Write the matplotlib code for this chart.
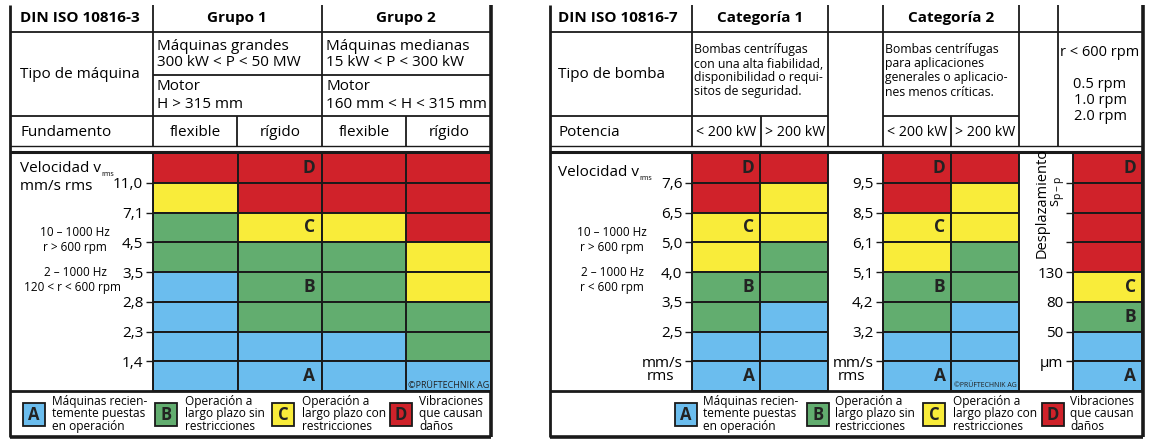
import matplotlib.pyplot as plt

plt.rcParams['font.family'] = ['Open Sans', 'DejaVu Sans']
plt.rcParams['mathtext.default'] = 'regular'

W, H = 1170, 447
INK = '#1a1a1a'

# zone colours
zone_colors = {'A': '#6bbdee', 'B': '#62ad6f', 'C': '#f9ec3a', 'D': '#d0222a'}

# DIN ISO 10816-3, zones from top to bottom
g1_flexible = ['D', 'C', 'B', 'B', 'A', 'A', 'A', 'A']
g1_rigido = ['D', 'D', 'C', 'B', 'B', 'B', 'A', 'A']
g2_flexible = ['D', 'D', 'C', 'B', 'B', 'B', 'A', 'A']
g2_rigido = ['D', 'D', 'D', 'C', 'C', 'B', 'B', 'A']
iso3_ticks = ['11,0', '7,1', '4,5', '3,5', '2,8', '2,3', '1,4']

# DIN ISO 10816-7
cat1_low = ['D', 'D', 'C', 'C', 'B', 'B', 'A', 'A']
cat1_high = ['D', 'C', 'C', 'B', 'B', 'A', 'A', 'A']
cat2_low = ['D', 'D', 'C', 'C', 'B', 'B', 'A', 'A']
cat2_high = ['D', 'C', 'C', 'B', 'B', 'A', 'A', 'A']
displacement = ['D', 'D', 'D', 'D', 'C', 'B', 'A', 'A']
cat1_ticks = ['7,6', '6,5', '5,0', '4,0', '3,5', '2,5', 'mm/s']
cat2_ticks = ['9,5', '8,5', '6,1', '5,1', '4,2', '3,2', 'mm/s']
disp_ticks = ['', '', '', '130', '80', '50', 'µm']

# row of the letter inside the zone column
letter_rows_vel = {'D': 0, 'C': 2, 'B': 4, 'A': 7}
letter_rows_disp = {'D': 0, 'C': 4, 'B': 5, 'A': 7}

legend_text = ['Máquinas recien-\ntemente puestas\nen operación',
               'Operación a\nlargo plazo sin\nrestricciones',
               'Operación a\nlargo plazo con\nrestricciones',
               'Vibraciones\nque causan\ndaños']

fig = plt.figure(figsize=(W / 100, H / 100), dpi=100)
bg = fig.add_axes([0, 0, 1, 1])
bg.set_xlim(0, W)
bg.set_ylim(H, 0)
bg.axis('off')


def rect(x0, y0, x1, y1):
    return [x0 / W, 1 - y1 / H, (x1 - x0) / W, (y1 - y0) / H]


def hline(y, x0, x1, lw=1.3, color=INK):
    bg.plot([x0, x1], [y, y], color=color, lw=lw, solid_capstyle='butt')


def vline(x, y0, y1, lw=1.3):
    bg.plot([x, x], [y0, y1], color=INK, lw=lw, solid_capstyle='butt')


def label_with_sub(x, y, main, sub, size):
    t = bg.text(x, y, main, fontsize=size, va='center')
    bg.annotate(sub, xy=(1.0, 0.1), xycoords=t, fontsize=5, ha='left', va='center')


def zone_grid(x0, x1, columns, ticks, letter_col=None, letter_rows=None):
    ax = fig.add_axes(rect(x0, 153, x1, 391))
    n = len(columns[0])
    for i, col in enumerate(columns):
        ax.bar([i] * n, [1] * n, bottom=list(range(n)), width=1, align='edge',
               color=[zone_colors[z] for z in col], edgecolor=INK, linewidth=1.4)
    ax.set_xlim(0, len(columns))
    ax.set_ylim(n, 0)
    ax.set_xticks([])
    ax.set_yticks(range(1, n))
    ax.set_yticklabels(ticks)
    ax.tick_params(axis='y', length=5, width=1, pad=2, labelsize=11, color=INK)
    for s in ax.spines.values():
        s.set_linewidth(1.4)
        s.set_color(INK)
    if letter_col is not None:
        for letter, row in letter_rows.items():
            ax.text(letter_col + 0.92, row + 0.5, letter, ha='right', va='center',
                    fontsize=12.5, fontweight='bold', color='#222222')
    return ax


# ---------------- left table: DIN ISO 10816-3 ----------------
T, HB, MB, FB = 5, 32, 116, 146
vline(10, T, 437, lw=2)
vline(491, T, 437, lw=2.6)
for y in (HB, MB):
    hline(y, 10, 491)
hline(75, 153, 491)
hline(FB, 10, 491, lw=1)
hline(152, 10, 491, lw=2.2)
hline(391, 10, 491, lw=2)
hline(437, 10, 491, lw=2.6)
vline(153, T, FB)
vline(322, T, FB)
vline(237, MB, FB)
vline(406, MB, FB)

fs = 11
bg.text(20, 18, 'DIN ISO 10816-3', fontsize=fs, fontweight='bold', va='center')
bg.text(237, 18, 'Grupo 1', fontsize=fs, fontweight='bold', ha='center', va='center')
bg.text(406, 18, 'Grupo 2', fontsize=fs, fontweight='bold', ha='center', va='center')
bg.text(20, 74, 'Tipo de máquina', fontsize=fs, va='center')
bg.text(157, 46, 'Máquinas grandes', fontsize=fs, va='center')
bg.text(157, 63, '300 kW < P < 50 MW', fontsize=fs, va='center')
bg.text(157, 87, 'Motor', fontsize=fs, va='center')
bg.text(157, 104, 'H > 315 mm', fontsize=fs, va='center')
bg.text(326, 46, 'Máquinas medianas', fontsize=fs, va='center')
bg.text(326, 63, '15 kW < P < 300 kW', fontsize=fs, va='center')
bg.text(326, 87, 'Motor', fontsize=fs, va='center')
bg.text(326, 104, '160 mm < H < 315 mm', fontsize=fs, va='center')
bg.text(20, 132, 'Fundamento', fontsize=fs, va='center')
for cx, lab in zip((195, 280, 364, 449), ('flexible', 'rígido', 'flexible', 'rígido')):
    bg.text(cx, 132, lab, fontsize=fs, ha='center', va='center')

label_with_sub(20, 168, 'Velocidad v', 'rms', fs)
bg.text(20, 186, 'mm/s rms', fontsize=fs, va='center')
bg.text(75, 232, '10 – 1000 Hz', fontsize=8.5, ha='center', va='center')
bg.text(75, 248, 'r > 600 rpm', fontsize=8.5, ha='center', va='center')
bg.text(75, 272, '2 – 1000 Hz', fontsize=8.5, ha='center', va='center')
bg.text(73, 287, '120 < r < 600 rpm', fontsize=8.5, ha='center', va='center')

ax3 = zone_grid(153, 491, [g1_flexible, g1_rigido, g2_flexible, g2_rigido], iso3_ticks,
                letter_col=1, letter_rows=letter_rows_vel)
ax3.text(3.5, 7.8, '©PRÜFTECHNIK AG', fontsize=6.5, ha='center', va='center', color='#222222')

# ---------------- right table: DIN ISO 10816-7 ----------------
vline(550, T, 437, lw=2)
vline(1143, T, 437, lw=2.6)
hline(HB, 550, 1143)
hline(MB, 550, 828)
hline(MB, 883, 1019)
hline(FB, 550, 1143, lw=1)
hline(152, 550, 1143, lw=2.2)
hline(391, 550, 1143, lw=2)
hline(437, 550, 1143, lw=2.6)
for x in (692, 828, 883, 1019, 1058):
    vline(x, T, FB)
vline(761, MB, FB)
vline(951, MB, FB)

bg.text(558, 18, 'DIN ISO 10816-7', fontsize=fs, fontweight='bold', va='center')
bg.text(760, 18, 'Categoría 1', fontsize=fs, fontweight='bold', ha='center', va='center')
bg.text(951, 18, 'Categoría 2', fontsize=fs, fontweight='bold', ha='center', va='center')
bg.text(558, 74, 'Tipo de bomba', fontsize=fs, va='center')
cat1_desc = ['Bombas centrífugas', 'con una alta fiabilidad,', 'disponibilidad o requi-', 'sitos de seguridad.']
cat2_desc = ['Bombas centrífugas', 'para aplicaciones', 'generales o aplicacio-', 'nes menos críticas.']
for k, (a, b) in enumerate(zip(cat1_desc, cat2_desc)):
    bg.text(694, 50 + 14 * k, a, fontsize=8.8, va='center')
    bg.text(885, 50 + 14 * k, b, fontsize=8.8, va='center')
bg.text(1100, 52, 'r < 600 rpm', fontsize=10.5, ha='center', va='center')
for k, lab in enumerate(['0.5 rpm', '1.0 rpm', '2.0 rpm']):
    bg.text(1100, 85 + 16 * k, lab, fontsize=10.5, ha='center', va='center')
bg.text(558, 132, 'Potencia', fontsize=fs, va='center')
for cx, lab in zip((726.5, 795, 917, 985.5), ('< 200 kW', '> 200 kW', '< 200 kW', '> 200 kW')):
    bg.text(cx, 132, lab, fontsize=10.2, ha='center', va='center')

label_with_sub(558, 172, 'Velocidad v', 'rms', fs)
bg.text(612, 232, '10 – 1000 Hz', fontsize=8.5, ha='center', va='center')
bg.text(612, 248, 'r > 600 rpm', fontsize=8.5, ha='center', va='center')
bg.text(612, 272, '2 – 1000 Hz', fontsize=8.5, ha='center', va='center')
bg.text(612, 288, 'r < 600 rpm', fontsize=8.5, ha='center', va='center')
bg.text(647, 377, 'rms', fontsize=11, va='center')
bg.text(838, 377, 'rms', fontsize=11, va='center')
bg.text(1042, 203, 'Desplazamiento', fontsize=10.5, rotation=90, ha='center', va='center')
bg.text(1058, 192, 's$_{p-p}$', fontsize=10.5, rotation=90, ha='center', va='center')

zone_grid(692, 828, [cat1_low, cat1_high], cat1_ticks, letter_col=0, letter_rows=letter_rows_vel)
ax_c2 = zone_grid(883, 1019, [cat2_low, cat2_high], cat2_ticks, letter_col=0, letter_rows=letter_rows_vel)
ax_c2.text(1.5, 7.8, '©PRÜFTECHNIK AG', fontsize=5, ha='center', va='center', color='#222222')
zone_grid(1073, 1142, [displacement], disp_ticks, letter_col=0, letter_rows=letter_rows_disp)

# ---------------- legends ----------------
for boxes, texts in (((23, 155, 272, 390), (52, 185, 302, 419)),
                     ((675, 807, 923, 1042), (703, 835, 953, 1070))):
    for letter, bx, tx, txt in zip('ABCD', boxes, texts, legend_text):
        bg.add_patch(plt.Rectangle((bx, 403), 22, 23, facecolor=zone_colors[letter],
                                   edgecolor=INK, lw=1.3))
        bg.text(bx + 11, 414.5, letter, fontsize=12, fontweight='bold', ha='center',
                va='center', color='#222222')
        bg.text(tx, 414, txt, fontsize=8.6, va='center', linespacing=0.92)

fig.savefig('out.png', dpi=100)
